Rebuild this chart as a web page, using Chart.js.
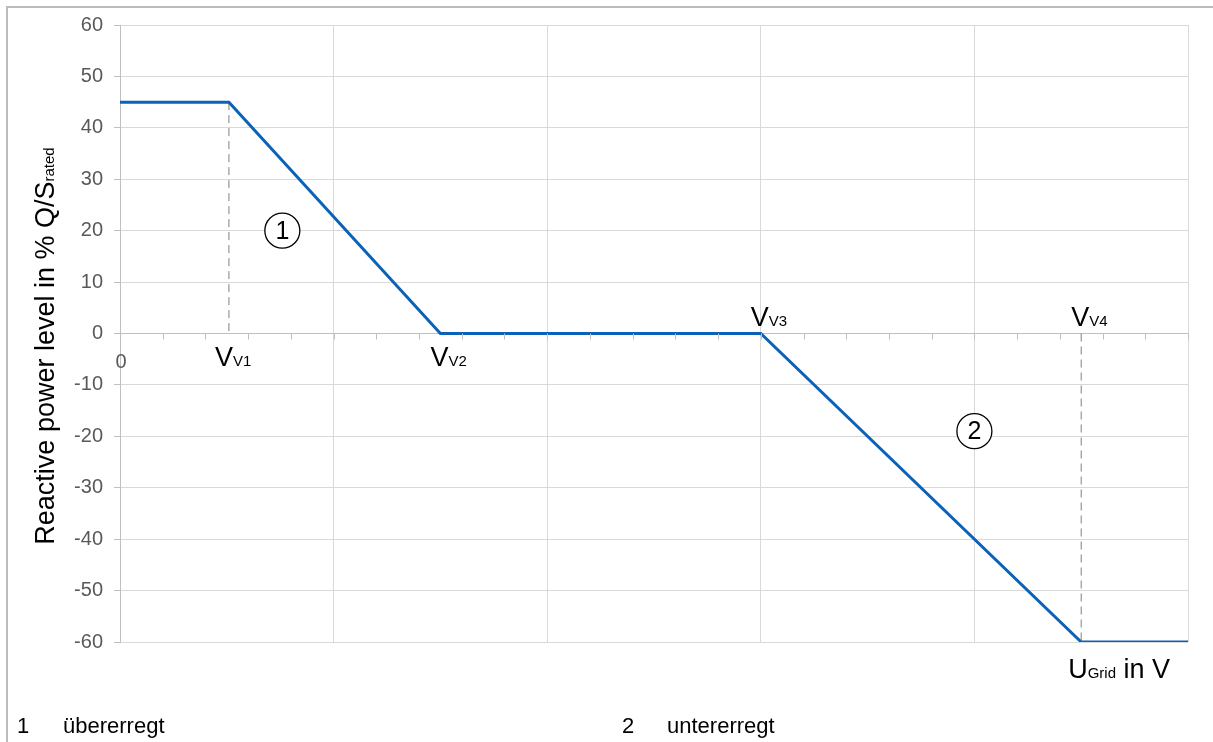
<!DOCTYPE html>
<html>
<head>
<meta charset="utf-8">
<script src="https://cdn.jsdelivr.net/npm/chart.js@4/dist/chart.umd.min.js"></script>
<style>
  html, body { margin: 0; padding: 0; background: #fff; }
  .wrap { width: 1213px; height: 742px; position: relative; }
</style>
</head>
<body>
<div class="wrap"><canvas id="chart"></canvas></div>
<script>
// curve: grid voltage (arbitrary units) vs reactive power in % Q/S rated
const voltage = [0, 0.51, 1.5, 3.0, 4.5, 5.0];
const reactive = [45, 45, 0, 0, -60, -60];

// characteristic points V_V1..V_V4
const markerNames = ['V1', 'V2', 'V3', 'V4'];
const markerX = [0.51, 1.5, 3.0, 4.5];

// dashed helper lines down/up to the marker
const dashX = [0.51, 4.5];
const dashFrom = [45, 0];
const dashTo = [0, -60];

// circled region numbers
const regionNums = ['1', '2'];
const regionX = [0.76, 4.0];
const regionY = [20, -19];

// footnote
const legendNums = ['1', '2'];
const legendTexts = ['übererregt', 'untererregt'];

const yMin = -60, yMax = 60, yStep = 10;
const xMin = 0, xMax = 5;

const FONT = "'Liberation Sans', Arial, sans-serif";
const GRID = '#d9d9d9';
const AXIS = '#bfbfbf';

const curve = voltage.map((v, i) => ({ x: v, y: reactive[i] }));

const datasets = [{
  data: curve,
  showLine: true,
  borderColor: '#0b62b8',
  borderWidth: 3,
  pointRadius: 0,
  tension: 0
}];
dashX.forEach((x, i) => {
  datasets.push({
    data: [{ x: x, y: dashFrom[i] }, { x: x, y: dashTo[i] }],
    showLine: true,
    borderColor: '#808080',
    borderWidth: 1,
    borderDash: [8, 5],
    pointRadius: 0
  });
});

// everything the library has no option for: labels, circles, minor ticks, frame
const extras = {
  id: 'extras',
  afterDraw(chart) {
    const ctx = chart.ctx;
    const xs = chart.scales.x, ys = chart.scales.y;
    const y0 = ys.getPixelForValue(0);
    ctx.save();

    // outer frame (left + top)
    ctx.strokeStyle = '#bcbcbc';
    ctx.lineWidth = 2;
    ctx.beginPath();
    ctx.moveTo(7, 742);
    ctx.lineTo(7, 7);
    ctx.lineTo(1213, 7);
    ctx.stroke();

    // minor ticks on the zero line
    ctx.strokeStyle = AXIS;
    ctx.lineWidth = 1;
    ctx.beginPath();
    for (let v = xMin; v <= xMax + 1e-6; v += 0.2) {
      const px = Math.round(xs.getPixelForValue(v)) + 0.5;
      ctx.moveTo(px, y0);
      ctx.lineTo(px, y0 + 6);
    }
    ctx.stroke();

    // "0" at the origin
    ctx.fillStyle = '#595959';
    ctx.font = '20px ' + FONT;
    ctx.textAlign = 'center';
    ctx.textBaseline = 'alphabetic';
    ctx.fillText('0', xs.getPixelForValue(0) + 1, y0 + 34);

    // V_Vn labels
    ctx.fillStyle = '#000';
    ctx.textAlign = 'left';
    markerNames.forEach((name, i) => {
      const px = xs.getPixelForValue(markerX[i]);
      const below = i < 2;
      const base = below ? y0 + 32 : y0 - 8;
      let x = px - (i === 0 ? 14 : 10);
      ctx.font = '27px ' + FONT;
      ctx.fillText('V', x, base);
      x += ctx.measureText('V').width;
      ctx.font = '15px ' + FONT;
      ctx.fillText(name, x, base);
    });

    // x axis title U_Grid in V
    {
      const base = ys.getPixelForValue(yMin) + 36;
      let x = xs.getPixelForValue(4.5) - 13;
      ctx.font = '27px ' + FONT;
      ctx.fillText('U', x, base);
      x += ctx.measureText('U').width;
      ctx.font = '15px ' + FONT;
      ctx.fillText('Grid', x, base);
      x += ctx.measureText('Grid').width;
      ctx.font = '27px ' + FONT;
      ctx.fillText(' in V', x, base);
    }

    // circled numbers
    regionNums.forEach((n, i) => {
      const cx = xs.getPixelForValue(regionX[i]);
      const cy = ys.getPixelForValue(regionY[i]);
      ctx.beginPath();
      ctx.arc(cx, cy, 17.5, 0, Math.PI * 2);
      ctx.fillStyle = '#fff';
      ctx.fill();
      ctx.strokeStyle = '#000';
      ctx.lineWidth = 1.3;
      ctx.stroke();
      ctx.fillStyle = '#000';
      ctx.font = '25px ' + FONT;
      ctx.textAlign = 'center';
      ctx.textBaseline = 'middle';
      ctx.fillText(n, cx, cy + 1);
    });

    // y axis title, rotated, with subscript
    {
      ctx.textAlign = 'left';
      ctx.textBaseline = 'alphabetic';
      const main = 'Reactive power level in % Q/S';
      const sub = 'rated';
      ctx.font = '27px ' + FONT;
      const wMain = ctx.measureText(main).width;
      ctx.font = '15px ' + FONT;
      const wSub = ctx.measureText(sub).width;
      const total = wMain + wSub;
      ctx.translate(54, 346);
      ctx.rotate(-Math.PI / 2);
      ctx.font = '27px ' + FONT;
      ctx.fillText(main, -total / 2, 0);
      ctx.font = '15px ' + FONT;
      ctx.fillText(sub, -total / 2 + wMain, 0);
      ctx.setTransform(1, 0, 0, 1, 0, 0);
    }

    // footnote
    ctx.fillStyle = '#000';
    ctx.font = '22px ' + FONT;
    ctx.textAlign = 'left';
    ctx.fillText(legendNums[0], 17, 733);
    ctx.fillText(legendTexts[0], 63, 733);
    ctx.fillText(legendNums[1], 622, 733);
    ctx.fillText(legendTexts[1], 667, 733);

    ctx.restore();
  }
};

new Chart(document.getElementById('chart'), {
  type: 'scatter',
  data: { datasets: datasets },
  options: {
    responsive: true,
    maintainAspectRatio: false,
    animation: false,
    layout: { padding: { left: 0, top: 25, right: 25, bottom: 100 } },
    plugins: {
      legend: { display: false },
      tooltip: { enabled: false }
    },
    scales: {
      x: {
        type: 'linear',
        min: xMin,
        max: xMax,
        ticks: { display: false, stepSize: 1 },
        grid: { color: GRID, drawTicks: false },
        border: { display: false },
        afterFit(scale) { scale.height = 0; }
      },
      y: {
        type: 'linear',
        min: yMin,
        max: yMax,
        ticks: {
          stepSize: yStep,
          color: '#595959',
          padding: 11,
          font: { size: 20, family: FONT }
        },
        grid: {
          color: ctx => (ctx.tick && ctx.tick.value === 0 ? AXIS : GRID),
          tickColor: AXIS,
          tickLength: 6
        },
        border: { color: AXIS },
        afterFit(scale) { scale.width = 120; }
      }
    }
  },
  plugins: [extras]
});
</script>
</body>
</html>
